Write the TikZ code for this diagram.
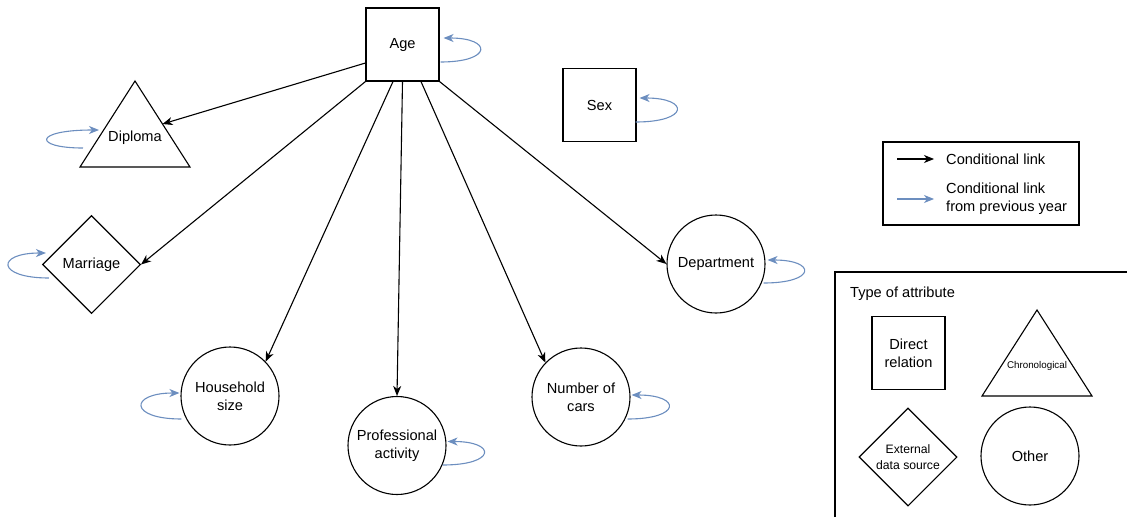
\documentclass[tikz,border=0pt]{standalone}
\usepackage{fontspec}
\setmainfont{Liberation Sans}
\usetikzlibrary{arrows.meta,shapes.geometric,calc}
\definecolor{loopblue}{HTML}{6C8EBF}
\begin{document}
\begin{tikzpicture}[x=1pt,y=-1pt,
  font=\fontsize{14.6}{18}\selectfont,
  shp/.style={draw, line width=1.1pt, inner sep=0pt, align=center},
  sq/.style={shp, rectangle, minimum width=73pt, minimum height=73pt},
  circ/.style={shp, circle, minimum size=98pt},
  dia/.style={shp, diamond, minimum width=98pt, minimum height=98pt},
  lbl/.style={align=center, inner sep=0pt},
  tri/.style={line width=1.1pt, line join=miter},
  dep/.style={line width=1.1pt, -{Stealth[length=10pt,width=8pt,inset=3pt]}},
  prev/.style={draw=loopblue, line width=1.1pt, -{Stealth[length=10pt,width=8pt,inset=3pt]}},
  frame/.style={line width=1.1pt}
]
\useasboundingbox (0,0) rectangle (1127,517);

% main nodes
\node[sq] (age) at (402.5,44.5) {Age};
\node[sq] (sex) at (599.5,105) {Sex};
\node[lbl] (diploma) at (135,138) {Diploma};
\draw[tri] (135,81) -- (190,167) -- (80,167) -- cycle;
\coordinate (dipR) at (162.5,124);
\coordinate (dipL) at (99,130);
\coordinate (dipS) at (83,148);
\node[dia] (marriage) at (91.5,264.5) {Marriage};
\node[circ] (household) at (230,396) {Household\\size};
\node[circ] (prof) at (397,445.5) {Professional\\activity};
\node[circ] (cars) at (581,397) {Number of\\cars};
\node[circ] (dept) at (716,264) {Department};

% conditional links
\draw[dep] ($(age.west)+(0,18.5)$) -- (dipR);
\draw[dep] (age.south west) -- (marriage.east);
\draw[dep] ($(age.south)+(-9.5,0)$) -- (household.44);
\draw[dep] (age.south) -- (prof.north);
\draw[dep] ($(age.south)+(18.5,0)$) -- (cars.136);
\draw[dep] (age.south east) -- (dept.west);

% links from previous year
\draw[prev] ($(age.east)+(1,17.5)$) .. controls +(52,0) and +(49,0) .. ($(age.east)+(4,-6.5)$);
\draw[prev] ($(sex.east)+(-1,17)$) .. controls +(54,0) and +(50,0) .. ($(sex.east)+(3,-7)$);
\draw[prev] (dipS) .. controls +(-50,0) and +(-66,0) .. (dipL);
\draw[prev] ($(marriage.west)+(7,13.5)$) .. controls +(-53,0) and +(-50,0) .. ($(marriage.west)+(4,-11.5)$);
\draw[prev] ($(household.west)+(1,23)$) .. controls +(-53,0) and +(-50,0) .. ($(household.west)+(-1,-3)$);
\draw[prev] ($(prof.east)+(-4,19.5)$) .. controls +(54,0) and +(49,0) .. ($(prof.east)+(1,-4)$);
\draw[prev] ($(cars.east)+(-3,22)$) .. controls +(54,0) and +(50,0) .. ($(cars.east)+(1,-2)$);
\draw[prev] ($(dept.east)+(-2,19)$) .. controls +(53,0) and +(49,0) .. ($(dept.east)+(2,-4)$);

% legend 1
\draw[frame] (883,142) rectangle (1079,225);
\coordinate (l1a) at (897,159);
\coordinate (l1b) at (934,159);
\draw[dep] (l1a) -- (l1b);
\node[lbl, anchor=west] (leg1) at (946,159) {Conditional link};
\coordinate (l2a) at (897,199);
\coordinate (l2b) at (934,199);
\draw[prev] (l2a) -- (l2b);
\node[lbl, anchor=west, align=left] (leg2) at (946,199) {Conditional link\\from previous year};

% legend 2
\draw[frame] (835,517) -- (835,272) -- (1127,272);
\node[lbl, anchor=west] (ttl) at (850,294) {Type of attribute};
\node[sq] (direct) at (908.5,353) {Direct\\relation};
\node[lbl, font=\fontsize{9.8}{12}\selectfont] (chrono) at (1037,366) {Chronological};
\draw[tri] (1037,310) -- (1092,396) -- (982,396) -- cycle;
\node[dia, font=\fontsize{12.2}{16}\selectfont] (ext) at (908,457) {External\\data source};
\node[circ] (other) at (1030,456) {Other};
\end{tikzpicture}
\end{document}
